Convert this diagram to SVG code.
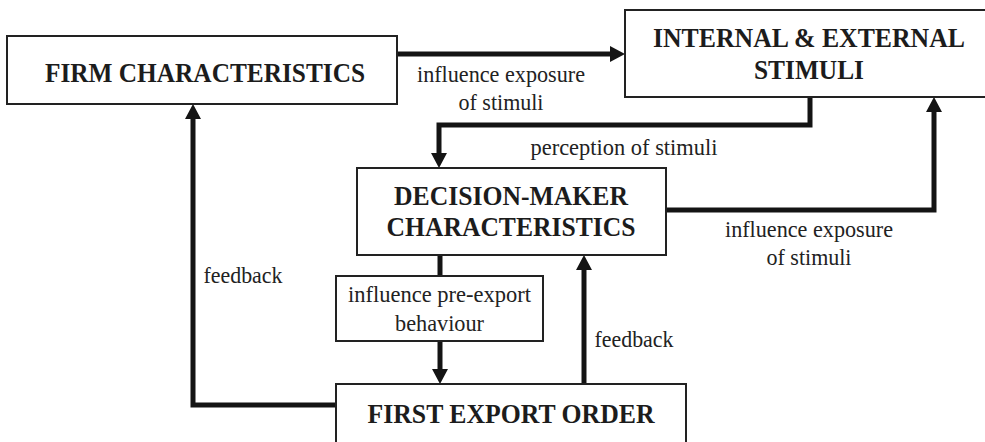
<svg xmlns="http://www.w3.org/2000/svg" width="985" height="442" viewBox="0 0 985 442">
  <style>
    .box { fill: #ffffff; stroke: #222222; stroke-width: 2; }
    .title { font-weight: bold; font-size: 27px; fill: #1c1c1c; text-anchor: middle; }
    .label { font-weight: normal; font-size: 22.4px; fill: #222222; text-anchor: middle; }
    .link { fill: none; stroke: #141414; stroke-width: 5; stroke-linejoin: miter; }
  </style>
  <defs>
    <marker id="head" viewBox="0 0 15 16" refX="3" refY="8" markerWidth="15" markerHeight="16" markerUnits="userSpaceOnUse" orient="auto">
      <path d="M0,0 L15,8 L0,16 Z" fill="#141414"/>
    </marker>
  </defs>
  <rect width="985" height="442" fill="#ffffff"/>

  <g font-family="Liberation Serif, DejaVu Serif, serif">
    <!-- connectors -->
    <g id="connectors">
      <path class="link" d="M397,54 H613" marker-end="url(#head)"/>
      <path class="link" d="M810,97 V125 H439 V156" marker-end="url(#head)"/>
      <path class="link" d="M666,210 H934 V109" marker-end="url(#head)"/>
      <path class="link" d="M440,255 V277"/>
      <path class="link" d="M440,341 V372" marker-end="url(#head)"/>
      <path class="link" d="M584,384 V267" marker-end="url(#head)"/>
      <path class="link" d="M336,405 H193 V116" marker-end="url(#head)"/>

      <text class="label" x="501" y="82" textLength="168" lengthAdjust="spacingAndGlyphs">influence exposure</text>
      <text class="label" x="501" y="110" textLength="85" lengthAdjust="spacingAndGlyphs">of stimuli</text>
      <text class="label" x="624" y="155" textLength="187" lengthAdjust="spacingAndGlyphs">perception of stimuli</text>
      <text class="label" x="809" y="237" textLength="168" lengthAdjust="spacingAndGlyphs">influence exposure</text>
      <text class="label" x="809" y="265" textLength="85" lengthAdjust="spacingAndGlyphs">of stimuli</text>
      <text class="label" x="243" y="283" textLength="79" lengthAdjust="spacingAndGlyphs">feedback</text>
      <text class="label" x="634" y="347" textLength="79" lengthAdjust="spacingAndGlyphs">feedback</text>
    </g>

    <!-- nodes -->
    <g id="firm">
      <rect class="box" x="7" y="36" width="390" height="68"/>
      <text class="title" x="205" y="82" textLength="320" lengthAdjust="spacingAndGlyphs">FIRM CHARACTERISTICS</text>
    </g>
    <g id="stimuli">
      <rect class="box" x="625" y="10" width="368" height="87"/>
      <text class="title" x="809" y="47" textLength="312" lengthAdjust="spacingAndGlyphs">INTERNAL &amp; EXTERNAL</text>
      <text class="title" x="809" y="79" textLength="110" lengthAdjust="spacingAndGlyphs">STIMULI</text>
    </g>
    <g id="decision-maker">
      <rect class="box" x="357" y="168" width="309" height="87"/>
      <text class="title" x="511" y="205" textLength="234" lengthAdjust="spacingAndGlyphs">DECISION-MAKER</text>
      <text class="title" x="511" y="236" textLength="249" lengthAdjust="spacingAndGlyphs">CHARACTERISTICS</text>
    </g>
    <g id="pre-export">
      <rect class="box" x="336" y="276" width="207" height="65"/>
      <text class="label" x="439.5" y="302" textLength="183" lengthAdjust="spacingAndGlyphs">influence pre-export</text>
      <text class="label" x="439.5" y="331" textLength="89" lengthAdjust="spacingAndGlyphs">behaviour</text>
    </g>
    <g id="first-order">
      <rect class="box" x="336" y="384" width="350" height="70"/>
      <text class="title" x="511" y="423" textLength="287" lengthAdjust="spacingAndGlyphs">FIRST EXPORT ORDER</text>
    </g>
  </g>
</svg>
